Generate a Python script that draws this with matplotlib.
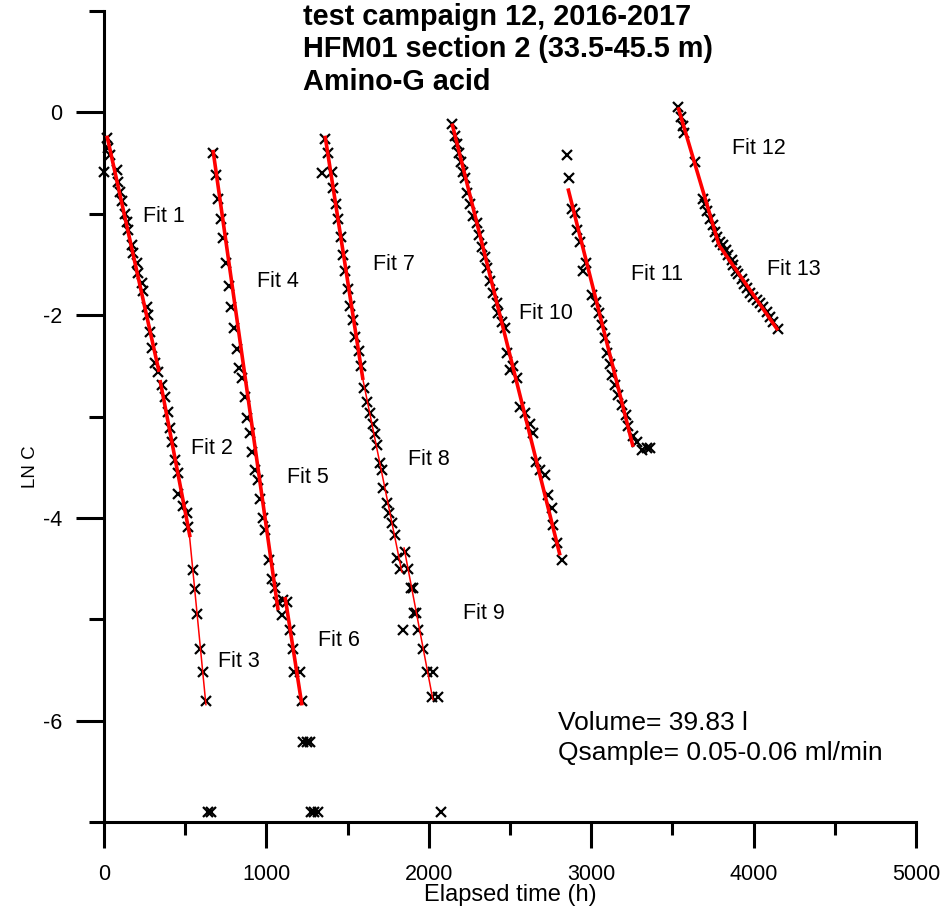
import matplotlib
matplotlib.use("Agg")
import matplotlib.pyplot as plt
from matplotlib.ticker import MultipleLocator

plt.rcParams['font.family'] = ['Liberation Sans', 'DejaVu Sans']
plt.rcParams['axes.unicode_minus'] = False

# measured points, one pair of lists per tracer pulse
pulse1_t = [16, 25, 37, 2, 80, 86, 99, 111, 129, 142, 148, 172, 179, 203, 209, 234, 240, 265, 271, 283,
            296, 314, 333, 357, 376, 394, 406, 419, 437, 456, 456, 486, 511, 517, 548, 560, 573, 591, 610, 628,
            640, 660]
pulse1_c = [-0.25, -0.35, -0.42, -0.59, -0.57, -0.69, -0.79, -0.87, -1.00, -1.08, -1.16, -1.31, -1.39, -1.49,
            -1.58, -1.68, -1.76, -1.92, -2.00, -2.17, -2.32, -2.47, -2.56, -2.69, -2.81, -2.96, -3.11, -3.25,
            -3.43, -3.56, -3.76, -3.88, -3.95, -4.09, -4.51, -4.70, -4.95, -5.29, -5.52, -5.81, -6.90, -6.90]

pulse2_t = [671, 690, 702, 721, 733, 751, 770, 782, 801, 819, 831, 850, 868, 881, 899, 911, 930, 948, 961, 979,
            991, 1016, 1035, 1053, 1072, 1096, 1102, 1125, 1145, 1164, 1170, 1207, 1219, 1225, 1250, 1268,
            1275, 1293, 1318]
pulse2_c = [-0.40, -0.62, -0.85, -1.05, -1.24, -1.49, -1.71, -1.92, -2.13, -2.33, -2.52, -2.62, -2.81, -3.01,
            -3.16, -3.35, -3.53, -3.63, -3.81, -4.00, -4.12, -4.42, -4.60, -4.69, -4.83, -4.96, -4.81, -4.83,
            -5.11, -5.29, -5.52, -5.52, -5.81, -6.21, -6.21, -6.21, -6.90, -6.90, -6.90]

pulse3_t = [1361, 1379, 1342, 1404, 1410, 1429, 1441, 1459, 1472, 1484, 1503, 1515, 1533, 1546, 1570, 1583,
            1601, 1620, 1638, 1657, 1669, 1681, 1700, 1712, 1718, 1743, 1755, 1774, 1792, 1804, 1823, 1854,
            1872, 1890, 1905, 1908, 1922, 1934, 1841, 1964, 1989, 2026, 2020, 2057, 2075]
pulse3_c = [-0.26, -0.40, -0.60, -0.59, -0.75, -0.90, -1.05, -1.23, -1.41, -1.56, -1.74, -1.91, -2.05, -2.22,
            -2.35, -2.50, -2.72, -2.86, -2.97, -3.07, -3.17, -3.28, -3.46, -3.53, -3.71, -3.85, -3.95, -4.05,
            -4.17, -4.40, -4.50, -4.34, -4.50, -4.69, -4.69, -4.94, -4.94, -5.11, -5.11, -5.29, -5.52, -5.52,
            -5.77, -5.77, -6.90]

pulse4_t = [2143, 2161, 2174, 2186, 2198, 2211, 2223, 2235, 2254, 2272, 2297, 2309, 2328, 2346, 2359, 2377,
            2395, 2420, 2426, 2451, 2469, 2482, 2519, 2500, 2543, 2562, 2593, 2623, 2642, 2660, 2685, 2716,
            2734, 2759, 2765, 2790, 2820]
pulse4_c = [-0.11, -0.23, -0.31, -0.40, -0.49, -0.59, -0.65, -0.80, -0.90, -1.02, -1.09, -1.21, -1.33, -1.43,
            -1.54, -1.66, -1.78, -1.88, -1.98, -2.07, -2.13, -2.37, -2.50, -2.54, -2.62, -2.91, -2.97, -3.07,
            -3.16, -3.45, -3.53, -3.58, -3.77, -3.90, -4.07, -4.25, -4.42]

pulse5_t = [2851, 2864, 2882, 2900, 2913, 2931, 2968, 2950, 3005, 3030, 3048, 3067, 3085, 3097, 3116, 3128,
            3147, 3165, 3190, 3214, 3227, 3258, 3282, 3313, 3344, 3362]
pulse5_c = [-0.42, -0.65, -0.95, -0.99, -1.16, -1.28, -1.49, -1.56, -1.80, -1.87, -1.98, -2.10, -2.23, -2.37,
            -2.48, -2.59, -2.69, -2.79, -2.89, -2.99, -3.09, -3.19, -3.25, -3.33, -3.31, -3.31]

pulse6_t = [3535, 3553, 3566, 3570, 3640, 3689, 3701, 3713, 3732, 3750, 3763, 3775, 3793, 3812, 3830, 3843,
            3867, 3873, 3892, 3904, 3929, 3941, 3960, 3978, 3997, 4021, 4040, 4058, 4083, 4101, 4120, 4150]
pulse6_c = [0.05, -0.05, -0.13, -0.20, -0.49, -0.85, -0.90, -0.97, -1.05, -1.11, -1.18, -1.23, -1.28, -1.31,
            -1.36, -1.41, -1.46, -1.51, -1.56, -1.59, -1.64, -1.69, -1.73, -1.78, -1.82, -1.85, -1.88, -1.92,
            -1.97, -2.02, -2.07, -2.14]

# straight-line fits (start / end of each segment)
fit_names = ['Fit %d' % i for i in range(1, 14)]
fit_t0 = [18, 345, 523, 671, 868, 1115, 1361, 1595, 1847, 2143, 2857, 3535, 3787]
fit_t1 = [339, 530, 628, 868, 1072, 1219, 1595, 1835, 2026, 2808, 3258, 3787, 4150]
fit_y0 = [-0.23, -2.64, -4.12, -0.37, -2.60, -4.78, -0.23, -2.64, -4.29, -0.11, -0.75, 0.05, -1.31]
fit_y1 = [-2.56, -4.19, -5.85, -2.60, -4.91, -5.85, -2.64, -4.54, -5.80, -4.37, -3.30, -1.31, -2.15]
label_t = [240, 536, 702, 942, 1127, 1318, 1656, 1872, 2211, 2556, 3245, 3867, 4083]
label_y = [-1.03, -3.32, -5.42, -1.67, -3.60, -5.21, -1.50, -3.42, -4.94, -1.98, -1.60, -0.36, -1.55]
fit_lw = [2.6, 2.6, 1.1, 2.6, 2.6, 2.6, 2.6, 1.1, 1.1, 2.6, 2.6, 2.6, 2.6]

title_lines = ['test campaign 12, 2016-2017', 'HFM01 section 2 (33.5-45.5 m)', 'Amino-G acid']
note_lines = 'Volume= 39.83 l\nQsample= 0.05-0.06 ml/min'

fig = plt.figure(figsize=(9.42, 9.11), dpi=100)
ax = fig.add_axes([104 / 942, 89 / 911, 812 / 942, 811 / 911])

pulses = [(pulse1_t, pulse1_c), (pulse2_t, pulse2_c), (pulse3_t, pulse3_c),
          (pulse4_t, pulse4_c), (pulse5_t, pulse5_c), (pulse6_t, pulse6_c)]
for t, c in pulses:
    ax.plot(t, c, linestyle='none', marker='x', color='black', markersize=7.5,
            markeredgewidth=1.6, clip_on=False, zorder=2)

for i in range(len(fit_names)):
    ax.plot([fit_t0[i], fit_t1[i]], [fit_y0[i], fit_y1[i]], color='red', lw=fit_lw[i],
            solid_capstyle='butt', zorder=3)
    ax.text(label_t[i], label_y[i], fit_names[i], fontsize=15.5, ha='left', va='center')

ax.text(2796, -6.17, note_lines, fontsize=19, ha='left', va='center', linespacing=1.28)

ax.set_xlim(0, 5000)
ax.set_ylim(-7, 1)
ax.xaxis.set_major_locator(MultipleLocator(1000))
ax.xaxis.set_minor_locator(MultipleLocator(500))
ax.set_yticks([-6, -4, -2, 0])
ax.set_yticks([-7, -5, -3, -1, 1], minor=True)

for side in ['top', 'right']:
    ax.spines[side].set_visible(False)
for side in ['left', 'bottom']:
    ax.spines[side].set_linewidth(2.2)

ax.tick_params(axis='x', which='major', direction='out', length=19, width=2.2, pad=11, labelsize=15.5)
ax.tick_params(axis='x', which='minor', direction='out', length=9.5, width=2.2)
ax.tick_params(axis='y', which='major', direction='out', length=20, width=2.2, pad=10, labelsize=15.5)
ax.tick_params(axis='y', which='minor', direction='out', length=10.5, width=2.2)

ax.set_xlabel('Elapsed time (h)', fontsize=17)
ax.xaxis.set_label_coords(0.5, -0.09)
ax.xaxis.label.set_va('center')
ax.set_ylabel('LN C', fontsize=13.5)
ax.yaxis.set_label_coords(-0.091, 0.4375)
ax.yaxis.label.set_va('center')

baselines = [25, 57, 90]
for line, yb in zip(title_lines, baselines):
    fig.text(303 / 942, 1 - yb / 911, line, fontsize=20.8, fontweight='bold', ha='left', va='baseline')

fig.savefig('out.png', dpi=100)
